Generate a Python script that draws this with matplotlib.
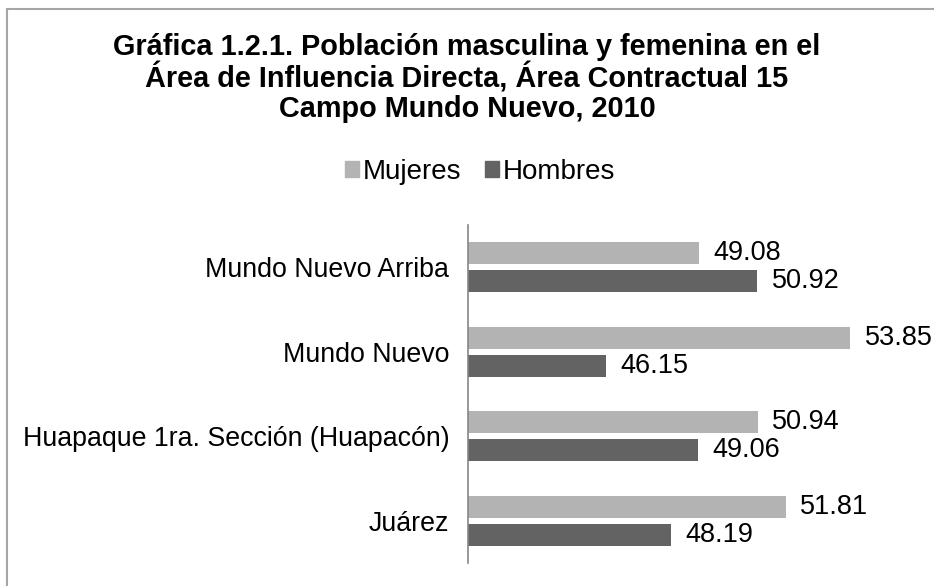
import matplotlib
matplotlib.use('Agg')
import matplotlib.pyplot as plt
from matplotlib.patches import Patch, Rectangle
import numpy as np

plt.rcParams['font.family'] = ['Liberation Sans', 'DejaVu Sans']

categories = ['Mundo Nuevo Arriba', 'Mundo Nuevo',
              'Huapaque 1ra. Sección (Huapacón)', 'Juárez']
mujeres = [49.08, 53.85, 50.94, 51.81]
hombres = [50.92, 46.15, 49.06, 48.19]
series_names = ['Mujeres', 'Hombres']
colors = ['#b3b3b3', '#636363']

fig = plt.figure(figsize=(9.34, 5.86), dpi=100)
ax = fig.add_axes([468/934, 1 - 563/586, 0.479, (563 - 225)/586])

y = np.arange(len(categories))
off = 0.165
h = 0.26
b1 = ax.barh(y - off, mujeres, height=h, color=colors[0], left=0)
b2 = ax.barh(y + off, hombres, height=h, color=colors[1], left=0)

for bars, vals in [(b1, mujeres), (b2, hombres)]:
    for bar, v in zip(bars, vals):
        ax.text(v + 0.45, bar.get_y() + bar.get_height()/2, f'{v:.2f}',
                va='center', ha='left', fontsize=19.5, color='black')

ax.set_xlim(41.8, 55.9)
ax.set_ylim(len(categories) - 0.5, -0.5)
ax.set_yticks(y)
ax.set_yticklabels(categories, fontsize=19.3)
ax.tick_params(axis='y', length=0, pad=13.5)
ax.set_xticks([])
for s in ['top', 'right', 'bottom']:
    ax.spines[s].set_visible(False)
ax.spines['left'].set_color('#868686')
ax.spines['left'].set_linewidth(1.2)

fig.text(0.5, 1 - 78/586,
         'Gráfica 1.2.1. Población masculina y femenina en el\n'
         'Área de Influencia Directa, Área Contractual 15\n'
         'Campo Mundo Nuevo, 2010',
         ha='center', va='center', fontsize=20.8, fontweight='bold',
         linespacing=1.07)

handles = [Patch(color=c) for c in colors]
fig.legend(handles, series_names, loc='center', bbox_to_anchor=(480/934, 1 - 172/586),
           ncol=2, frameon=False, fontsize=20, handlelength=0.5,
           handleheight=0.5, handletextpad=0.15, columnspacing=0.85,
           borderpad=0)

fig.patches.append(Rectangle((7/934, -0.1), 1.2, 1.1 - 9/586, transform=fig.transFigure,
                             fill=False, edgecolor='#a6a6a6', linewidth=1.5))

fig.savefig('out.png', dpi=100)
